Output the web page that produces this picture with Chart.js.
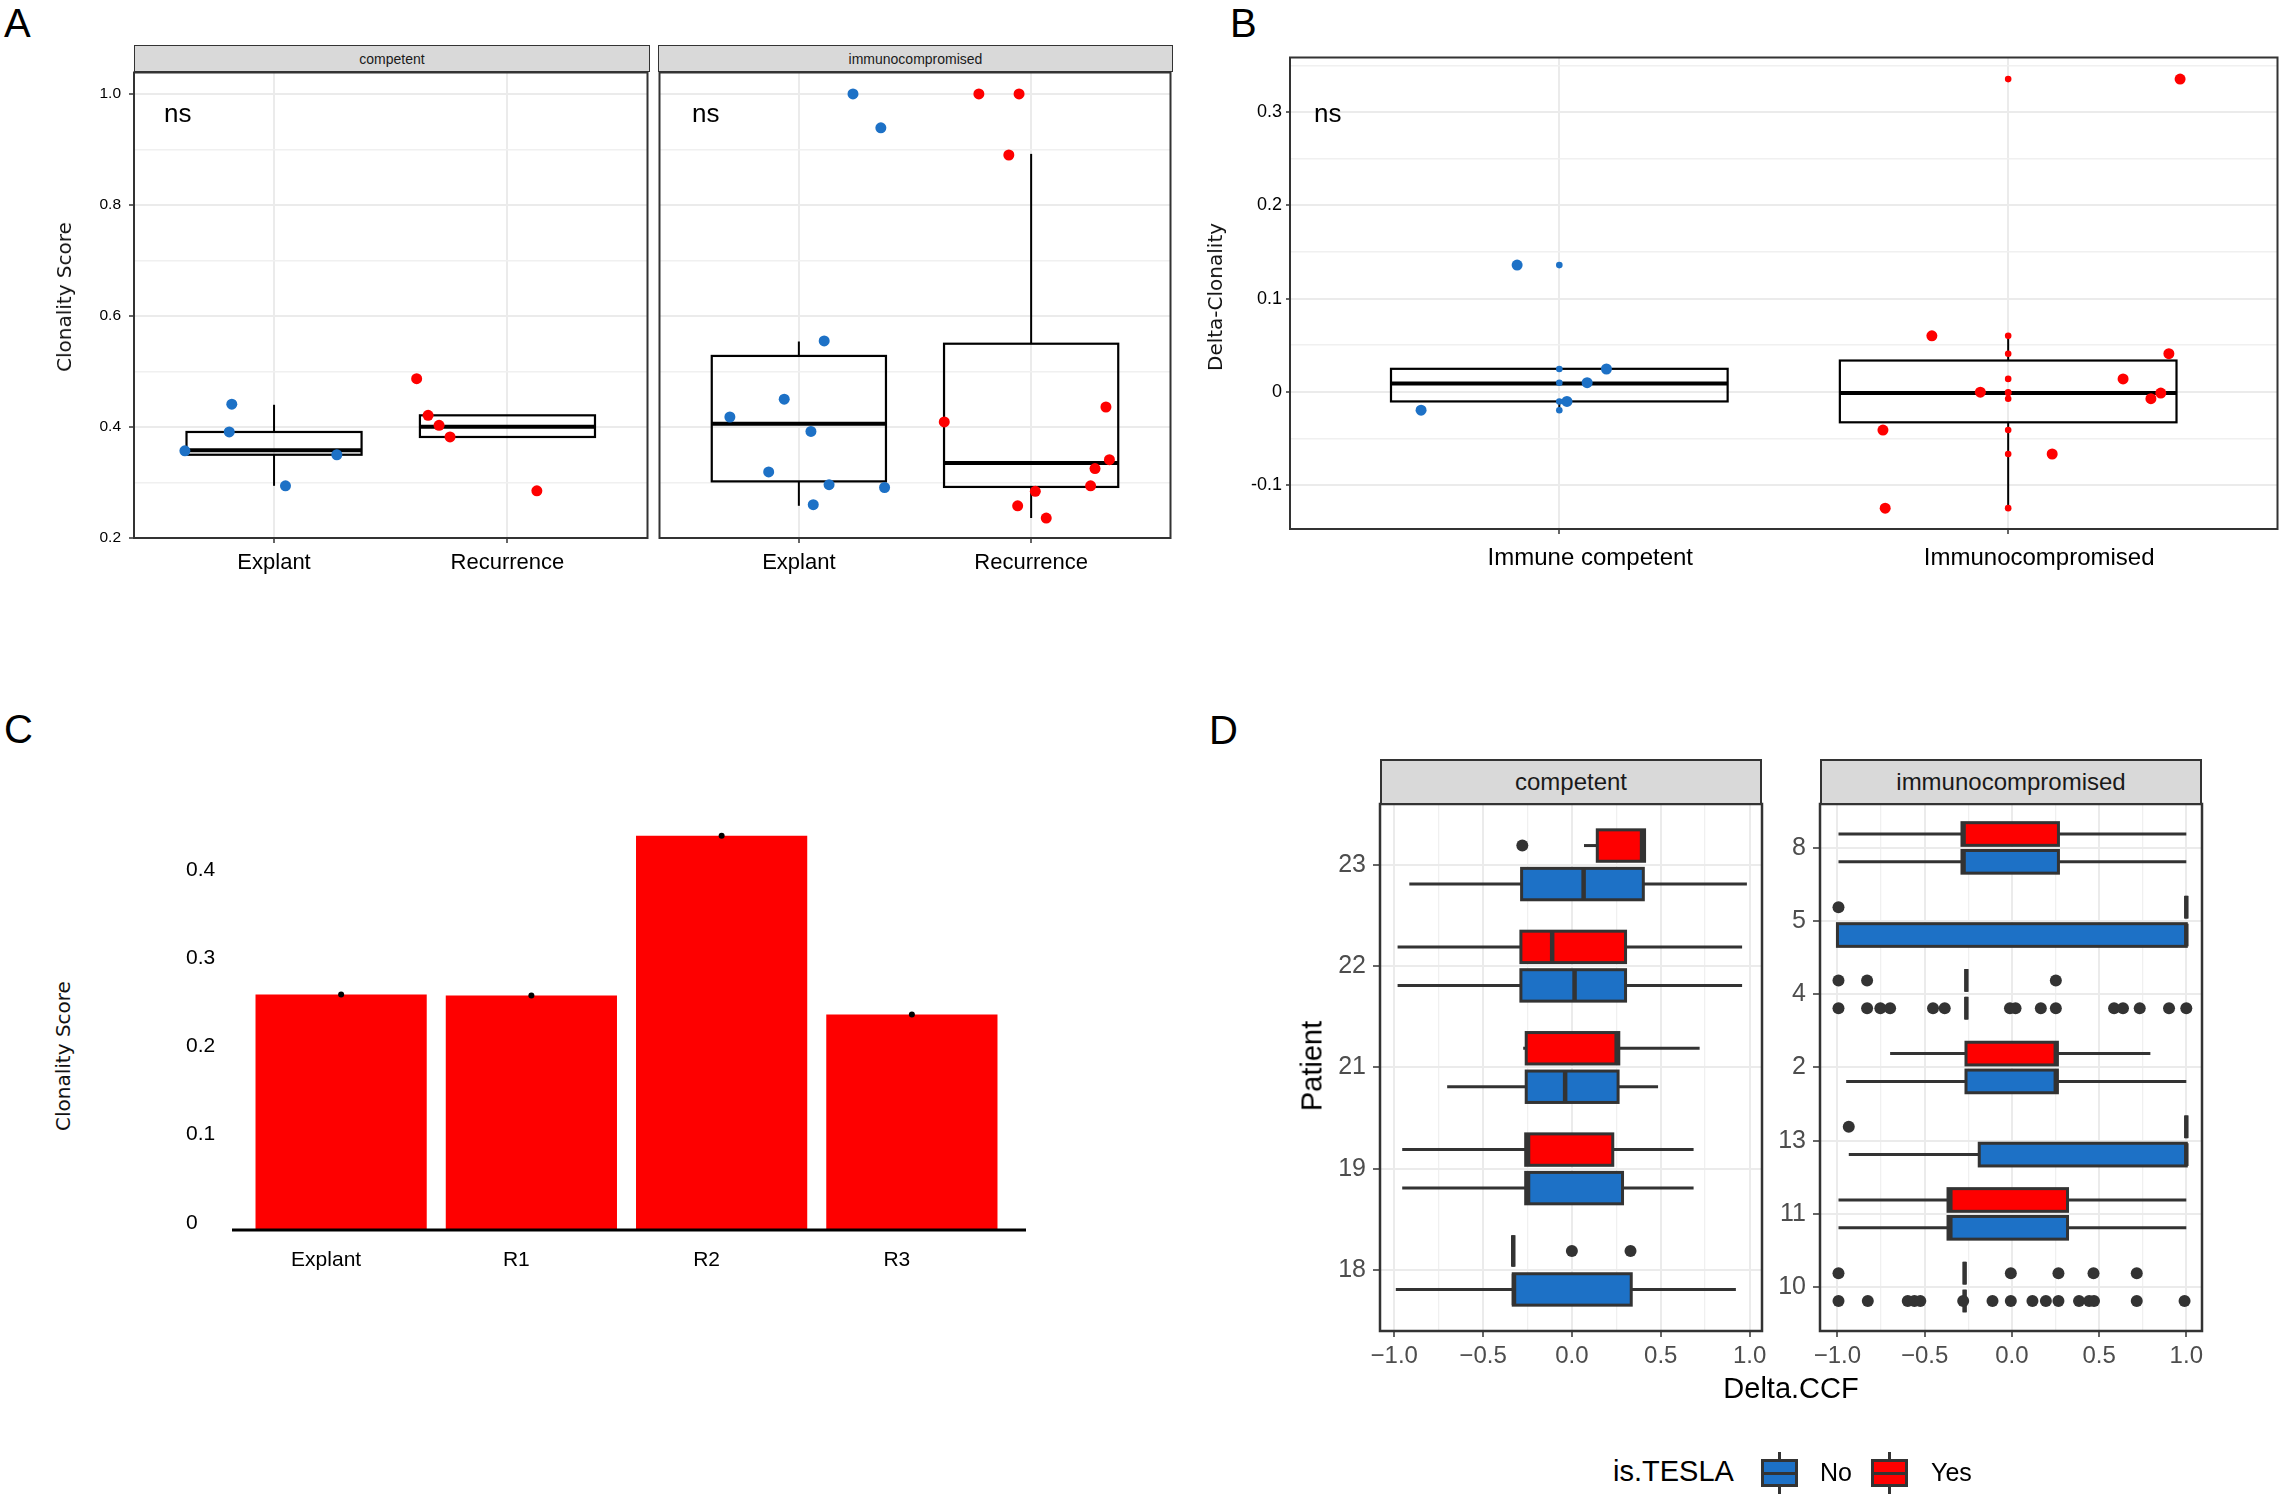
<!DOCTYPE html>
<html>
<head>
<meta charset="utf-8">
<title>Clonality figure</title>
<script src="https://cdn.jsdelivr.net/npm/chart.js@4.4.0/dist/chart.umd.min.js"></script>
<style>
  body { margin: 0; width: 2283px; height: 1496px; background: #fff; position: relative; overflow: hidden;
         font-family: "Liberation Sans", Arial, sans-serif; color: #000; }
  canvas { position: absolute; }
  .t { position: absolute; white-space: nowrap; line-height: 1; }
  .yt { position: absolute; white-space: nowrap; line-height: 1; transform: translate(-50%, -50%) rotate(-90deg); }
  .dv { font-family: "DejaVu Sans", sans-serif; font-size: 20px; color: #111; }
  .strip { position: absolute; box-sizing: border-box; background: #d9d9d9; border: 1.5px solid #333;
           display: flex; align-items: center; justify-content: center; color: #1a1a1a; line-height: 1; }
  .key { position: absolute; box-sizing: border-box; width: 37px; height: 28px; border: 3px solid #333; }
  .key .med { position: absolute; left: 0; right: 0; top: 9.5px; height: 3px; background: #333; }
  .key .wh { position: absolute; left: 14px; width: 3px; height: 7px; background: #333; }
</style>
</head>
<body>
<canvas id="a1"></canvas>
<canvas id="a2"></canvas>
<canvas id="b"></canvas>
<canvas id="c"></canvas>
<canvas id="d1"></canvas>
<canvas id="d2"></canvas>

<div class="t" style="left:4px;top:3px;font-size:40px">A</div>
<div class="t" style="left:1230px;top:3px;font-size:40px">B</div>
<div class="t" style="left:4px;top:709px;font-size:40px">C</div>
<div class="t" style="left:1209px;top:710px;font-size:40px">D</div>

<div class="strip" style="left:134px;top:45px;width:516px;height:27px;font-size:14px">competent</div>
<div class="strip" style="left:658px;top:45px;width:515px;height:27px;font-size:14px">immunocompromised</div>
<div class="t" style="left:164px;top:100px;font-size:26px">ns</div>
<div class="t" style="left:692px;top:100px;font-size:26px">ns</div>
<div class="t" style="left:1314px;top:100px;font-size:26px">ns</div>
<div class="yt dv" style="left:64px;top:297px">Clonality Score</div>
<div class="yt dv" style="left:1215px;top:297px">Delta-Clonality</div>
<div class="yt dv" style="left:63px;top:1056px">Clonality Score</div>

<div class="strip" style="left:1380px;top:759px;width:382px;height:46px;font-size:24px;border-width:2px">competent</div>
<div class="strip" style="left:1820px;top:759px;width:382px;height:46px;font-size:24px;border-width:2px">immunocompromised</div>
<div class="yt" style="left:1312px;top:1066px;font-size:29px">Patient</div>
<div class="t" style="left:1791px;top:1374px;font-size:29px;transform:translateX(-50%)">Delta.CCF</div>
<div class="t" style="left:1613px;top:1457px;font-size:29px">is.TESLA</div>
<div class="key" id="keyNo" style="left:1761px;top:1459px"><div class="wh" style="top:-10px"></div><div class="med"></div><div class="wh" style="top:25px"></div></div>
<div class="t" style="left:1820px;top:1460px;font-size:25px">No</div>
<div class="key" id="keyYes" style="left:1871px;top:1459px"><div class="wh" style="top:-10px"></div><div class="med"></div><div class="wh" style="top:25px"></div></div>
<div class="t" style="left:1931px;top:1460px;font-size:25px">Yes</div>

<script>
// ---- Panel A: clonality score per sample type, faceted by immune status ----
const aCategories = ['Explant', 'Recurrence'];
const aYTicks = [0.2, 0.4, 0.6, 0.8, 1.0];
const aYTickLabels = ['0.2', '0.4', '0.6', '0.8', '1.0'];
const aYMinor = [0.3, 0.5, 0.7, 0.9];
const aCompExplant = [0.357, 0.441, 0.391, 0.294, 0.350];
const aCompExplantJitter = [0.618, 0.819, 0.808, 1.049, 1.269];
const aCompRecur = [0.487, 0.421, 0.403, 0.382, 0.285];
const aCompRecurJitter = [1.611, 1.660, 1.707, 1.754, 2.126];
const aImmExplant = [1.0, 0.939, 0.555, 0.450, 0.418, 0.392, 0.319, 0.296, 0.291, 0.260];
const aImmExplantJitter = [1.233, 1.353, 1.109, 0.937, 0.703, 1.052, 0.870, 1.130, 1.369, 1.062];
const aImmRecur = [1.0, 1.0, 0.890, 0.409, 0.436, 0.341, 0.325, 0.294, 0.284, 0.258, 0.236];
const aImmRecurJitter = [1.775, 1.948, 1.904, 1.626, 2.322, 2.337, 2.275, 2.256, 2.018, 1.942, 2.065];
// box stats: [lower whisker, Q1, median, Q3, upper whisker]
const aCompExplantBox = [0.294, 0.350, 0.358, 0.391, 0.440];
const aCompRecurBox = [0.382, 0.382, 0.4005, 0.421, 0.421];
const aImmExplantBox = [0.258, 0.302, 0.406, 0.528, 0.554];
const aImmRecurBox = [0.236, 0.292, 0.335, 0.550, 0.892];

// ---- Panel B: delta clonality by immune status ----
const bCategories = ['Immune competent', 'Immunocompromised'];
const bYTicks = [-0.1, 0, 0.1, 0.2, 0.3];
const bYTickLabels = ['-0.1', '0', '0.1', '0.2', '0.3'];
const bYMinor = [-0.05, 0.05, 0.15, 0.25, 0.35];
const bCompetent = [0.136, 0.0245, 0.0098, -0.0103, -0.0197];
const bCompetentJitter = [0.906, 1.105, 1.062, 1.017, 0.692];
const bImmuno = [0.3356, 0.0601, 0.0409, 0.0139, -0.0004, -0.0013, -0.0074, -0.041, -0.0667, -0.1248];
const bImmunoJitter = [2.383, 1.830, 2.358, 2.256, 1.938, 2.340, 2.318, 1.721, 2.098, 1.726];
const bCompetentBox = [-0.0197, -0.0103, 0.009, 0.0247, 0.0247];
const bImmunoBox = [-0.1248, -0.0327, -0.0013, 0.0336, 0.0601];

// ---- Panel C: clonality score per sample ----
const cCategories = ['Explant', 'R1', 'R2', 'R3'];
const cValues = [0.2666, 0.2657, 0.4464, 0.244];
const cYTicks = [0, 0.1, 0.2, 0.3, 0.4];
const cYTickLabels = ['0', '0.1', '0.2', '0.3', '0.4'];

// ---- Panel D: Delta.CCF per patient, split by is.TESLA ----
const dXTicks = [-1, -0.5, 0, 0.5, 1];
const dXTickLabels = ['\u22121.0', '\u22120.5', '0.0', '0.5', '1.0'];
const dXMinor = [-0.75, -0.25, 0.25, 0.75];
const dCompPatients = ['18', '19', '21', '22', '23'];
const dCompNoBox = [
  [-0.991, -0.330, -0.326, 0.334, 0.923],
  [-0.955, -0.260, -0.247, 0.285, 0.685],
  [-0.702, -0.257, -0.038, 0.260, 0.485],
  [-0.981, -0.287, 0.015, 0.302, 0.958],
  [-0.915, -0.283, 0.066, 0.402, 0.985]
];
const dCompYesBox = [
  [-0.330, -0.330, -0.330, -0.330, -0.330],
  [-0.955, -0.260, -0.247, 0.230, 0.685],
  [-0.274, -0.257, 0.252, 0.264, 0.719],
  [-0.981, -0.287, -0.111, 0.302, 0.958],
  [0.068, 0.143, 0.395, 0.409, 0.409]
];
const dCompNoOut = [[], [], [], [], []];
const dCompYesOut = [[0.0, 0.330], [], [], [], [-0.279]];
const dImmPatients = ['10', '11', '13', '2', '4', '5', '8'];
const dImmNoBox = [
  [-0.271, -0.271, -0.271, -0.271, -0.271],
  [-0.994, -0.366, -0.353, 0.319, 1.0],
  [-0.935, -0.187, 1.0, 1.0, 1.0],
  [-0.950, -0.263, 0.252, 0.261, 1.0],
  [-0.261, -0.261, -0.261, -0.261, -0.261],
  [-1.0, -1.0, 1.0, 1.0, 1.0],
  [-0.994, -0.286, -0.277, 0.267, 1.0]
];
const dImmYesBox = [
  [-0.271, -0.271, -0.271, -0.271, -0.271],
  [-0.994, -0.366, -0.353, 0.319, 1.0],
  [1.0, 1.0, 1.0, 1.0, 1.0],
  [-0.698, -0.263, 0.252, 0.261, 0.794],
  [-0.261, -0.261, -0.261, -0.261, -0.261],
  [1.0, 1.0, 1.0, 1.0, 1.0],
  [-0.994, -0.286, -0.277, 0.267, 1.0]
];
const dImmNoOut = [
  [-0.994, -0.826, -0.597, -0.559, -0.525, -0.279, -0.111, -0.006, 0.118, 0.195, 0.267, 0.385, 0.443, 0.471, 0.716, 0.990],
  [], [], [],
  [-0.994, -0.830, -0.754, -0.698, -0.452, -0.385, -0.011, 0.021, 0.166, 0.252, 0.586, 0.637, 0.733, 0.901, 1.0],
  [], []
];
const dImmYesOut = [
  [-0.994, -0.006, 0.267, 0.468, 0.716],
  [], [-0.935], [],
  [-0.994, -0.830, 0.252],
  [-0.994], []
];

const BLUE = '#1d71c6', RED = '#fe0000', DARK = '#333333', GRID = '#ebebeb', MINOR = '#f0f0f0';
const DODGE = 0.19;

Chart.defaults.font.family = '"Liberation Sans", Arial, sans-serif';
Chart.defaults.color = '#000';
Chart.defaults.plugins.legend.display = false;
Chart.defaults.plugins.tooltip.enabled = false;

document.getElementById('keyNo').style.background = BLUE;
document.getElementById('keyYes').style.background = RED;

// place a canvas so that its plot area lands on the given page rectangle
function frame(id, L, T, W, H, m) {
  const c = document.getElementById(id);
  c.width = W + m.l + m.r;
  c.height = H + m.t + m.b;
  c.style.left = (L - m.l) + 'px';
  c.style.top = (T - m.t) + 'px';
  return c;
}
const setTicks = vals => s => { s.ticks = vals.map(v => ({ value: v })); };
// fixed axis sizes; drop the label overhang padding so the plot area is exact
const fixW = w => s => { s.width = w; s.paddingTop = 0; s.paddingBottom = 0; };
const fixH = h => s => { s.height = h; s.paddingLeft = 0; s.paddingRight = 0; };

function gridOpts(major, wMajor, wMinor, tickLen) {
  const isMajor = c => c.tick && major.includes(c.tick.value);
  return {
    color: c => isMajor(c) ? GRID : MINOR,
    lineWidth: c => isMajor(c) ? wMajor : wMinor,
    drawTicks: tickLen > 0, tickLength: tickLen, tickWidth: 1.5,
    tickColor: c => isMajor(c) ? DARK : 'rgba(0,0,0,0)'
  };
}
function labelFrom(major, labels) {
  return v => { const k = major.indexOf(v); return k < 0 ? '' : labels[k]; };
}

function borderPlugin(w) {
  return {
    id: 'panelBorder',
    afterDraw(chart) {
      const { ctx, chartArea: a } = chart;
      ctx.save();
      ctx.strokeStyle = DARK; ctx.lineWidth = w;
      ctx.strokeRect(a.left, a.top, a.right - a.left, a.bottom - a.top);
      ctx.restore();
    }
  };
}

// boxplots drawn through the chart's own scales
function boxPlugin(items, o) {
  return {
    id: 'boxes',
    beforeDatasetsDraw(chart) {
      const { ctx } = chart;
      const val = o.horizontal ? chart.scales.x : chart.scales.y;
      const cat = o.horizontal ? chart.scales.y : chart.scales.x;
      const P = (vp, cp) => o.horizontal ? [vp, cp] : [cp, vp];
      const seg = (p, q) => { ctx.beginPath(); ctx.moveTo(p[0], p[1]); ctx.lineTo(q[0], q[1]); ctx.stroke(); };
      ctx.save();
      ctx.strokeStyle = o.stroke; ctx.lineCap = 'butt';
      items.forEach(b => {
        const [lo, q1, med, q3, hi] = b.stats.map(v => val.getPixelForValue(v));
        const c0 = cat.getPixelForValue(b.pos - o.half), c1 = cat.getPixelForValue(b.pos + o.half);
        const cc = cat.getPixelForValue(b.pos);
        ctx.lineWidth = o.whisker;
        seg(P(lo, cc), P(q1, cc));
        seg(P(q3, cc), P(hi, cc));
        const p0 = P(q1, c0), p1 = P(q3, c1);
        const x = Math.min(p0[0], p1[0]), y = Math.min(p0[1], p1[1]);
        const w = Math.abs(p1[0] - p0[0]), h = Math.abs(p1[1] - p0[1]);
        if (b.fill) { ctx.fillStyle = b.fill; ctx.fillRect(x, y, w, h); }
        ctx.lineWidth = o.box;
        ctx.strokeRect(x, y, w, h);
        ctx.lineWidth = o.median;
        seg(P(med, c0), P(med, c1));
      });
      ctx.restore();
    }
  };
}

const baseOpts = m => ({
  responsive: false, animation: false, events: [],
  layout: { padding: { top: m.t, right: m.r, left: 0, bottom: 0 } }
});

// ---------- Panel A ----------
function facetA(id, L, W, showY, explant, explantX, recur, recurX, boxes) {
  const m = { l: showY ? 74 : 4, t: 4, r: 4, b: 70 };
  const allY = aYTicks.concat(aYMinor);
  new Chart(frame(id, L, 71, W, 467, m), {
    type: 'scatter',
    data: { datasets: [
      { data: explant.map((v, i) => ({ x: explantX[i], y: v })), backgroundColor: BLUE, pointRadius: 5.5, borderWidth: 0 },
      { data: recur.map((v, i) => ({ x: recurX[i], y: v })), backgroundColor: RED, pointRadius: 5.5, borderWidth: 0 }
    ]},
    options: Object.assign(baseOpts(m), {
      scales: {
        x: {
          type: 'linear', min: 0.4, max: 2.6,
          afterBuildTicks: setTicks(aCategories.map((c, i) => i + 1)), afterFit: fixH(m.b),
          border: { display: false },
          grid: { color: GRID, lineWidth: 2, tickLength: 5, tickColor: DARK, tickWidth: 1.5 },
          ticks: { autoSkip: false, maxRotation: 0, padding: 7, font: { size: 22 }, color: '#000',
                   callback: (v, i) => aCategories[i] }
        },
        y: {
          min: 0.2, max: 1.0386,
          afterBuildTicks: setTicks(allY), afterFit: fixW(m.l),
          border: { display: false },
          grid: gridOpts(aYTicks, 2, 1.5, showY ? 5 : 0),
          ticks: { display: showY, autoSkip: false, padding: 8, font: { size: 15.5 }, color: '#000',
                   callback: labelFrom(aYTicks, aYTickLabels) }
        }
      }
    }),
    plugins: [boxPlugin(boxes, { horizontal: false, half: 0.375, stroke: '#000', box: 2.2, median: 4, whisker: 2 }), borderPlugin(2)]
  });
}
facetA('a1', 134, 515, true, aCompExplant, aCompExplantJitter, aCompRecur, aCompRecurJitter,
  [{ pos: 1, stats: aCompExplantBox }, { pos: 2, stats: aCompRecurBox }]);
facetA('a2', 658, 514, false, aImmExplant, aImmExplantJitter, aImmRecur, aImmRecurJitter,
  [{ pos: 1, stats: aImmExplantBox }, { pos: 2, stats: aImmRecurBox }]);

// ---------- Panel B ----------
(function () {
  const m = { l: 80, t: 4, r: 4, b: 60 };
  new Chart(frame('b', 1290, 56, 989, 473, m), {
    type: 'scatter',
    data: { datasets: [
      { data: bCompetent.map(v => ({ x: 1, y: v })), backgroundColor: BLUE, pointRadius: 3.3, borderWidth: 0 },
      { data: bImmuno.map(v => ({ x: 2, y: v })), backgroundColor: RED, pointRadius: 3.3, borderWidth: 0 },
      { data: bCompetent.map((v, i) => ({ x: bCompetentJitter[i], y: v })), backgroundColor: BLUE, pointRadius: 5.5, borderWidth: 0 },
      { data: bImmuno.map((v, i) => ({ x: bImmunoJitter[i], y: v })), backgroundColor: RED, pointRadius: 5.5, borderWidth: 0 }
    ]},
    options: Object.assign(baseOpts(m), {
      scales: {
        x: {
          type: 'linear', min: 0.4, max: 2.6,
          afterBuildTicks: setTicks(bCategories.map((c, i) => i + 1)), afterFit: fixH(m.b),
          border: { display: false },
          grid: { color: GRID, lineWidth: 2, tickLength: 5, tickColor: DARK, tickWidth: 1.5 },
          ticks: { autoSkip: false, maxRotation: 0, padding: 10, labelOffset: 31, font: { size: 24 }, color: '#000',
                   callback: (v, i) => bCategories[i] }
        },
        y: {
          min: -0.1472, max: 0.3588,
          afterBuildTicks: setTicks(bYTicks.concat(bYMinor)), afterFit: fixW(m.l),
          border: { display: false },
          grid: gridOpts(bYTicks, 2, 1.5, 4),
          ticks: { autoSkip: false, padding: 4, font: { size: 18 }, color: '#000',
                   callback: labelFrom(bYTicks, bYTickLabels) }
        }
      }
    }),
    plugins: [boxPlugin([{ pos: 1, stats: bCompetentBox }, { pos: 2, stats: bImmunoBox }],
      { horizontal: false, half: 0.375, stroke: '#000', box: 2.2, median: 4, whisker: 2 }), borderPlugin(2)]
  });
})();

// ---------- Panel C ----------
(function () {
  const m = { l: 60, t: 10, r: 30, b: 50 };
  const baseline = {
    id: 'baseline',
    afterDraw(chart) {
      const { ctx, chartArea: a } = chart;
      const y = chart.scales.y.getPixelForValue(0);
      ctx.save();
      ctx.strokeStyle = '#000'; ctx.lineWidth = 3;
      ctx.beginPath(); ctx.moveTo(a.left - 14, y); ctx.lineTo(a.right + 19, y); ctx.stroke();
      ctx.restore();
    }
  };
  new Chart(frame('c', 246, 762, 761, 468, m), {
    type: 'bar',
    data: { labels: cCategories, datasets: [
      { type: 'bar', data: cValues, backgroundColor: RED, categoryPercentage: 0.9, barPercentage: 1, order: 2 },
      { type: 'line', data: cValues, showLine: false, pointRadius: 3, pointBackgroundColor: '#000', pointBorderWidth: 0, order: 1 }
    ]},
    options: Object.assign(baseOpts(m), {
      scales: {
        x: {
          afterFit: fixH(m.b), border: { display: false }, grid: { display: false },
          ticks: { labelOffset: -15, padding: 10, font: { size: 21 }, color: '#000' }
        },
        y: {
          min: 0, max: 0.53, afterBuildTicks: setTicks(cYTicks), afterFit: fixW(m.l),
          border: { display: false }, grid: { display: false },
          ticks: { crossAlign: 'far', labelOffset: -7, font: { size: 21 }, color: '#000',
                   callback: labelFrom(cYTicks, cYTickLabels) }
        }
      }
    }),
    plugins: [baseline]
  });
})();

// ---------- Panel D ----------
function facetD(id, L, patients, noBox, yesBox, noOut, yesOut, xMin, xMax) {
  const m = { l: 70, t: 6, r: 25, b: 45 };
  const items = [], outliers = [];
  patients.forEach((p, i) => {
    if (noBox[i]) items.push({ pos: i - DODGE, stats: noBox[i], fill: BLUE });
    if (yesBox[i]) items.push({ pos: i + DODGE, stats: yesBox[i], fill: RED });
    noOut[i].forEach(v => outliers.push({ x: v, y: i - DODGE }));
    yesOut[i].forEach(v => outliers.push({ x: v, y: i + DODGE }));
  });
  new Chart(frame(id, L, 804, 382, 527, m), {
    type: 'scatter',
    data: { datasets: [{ data: outliers, backgroundColor: DARK, pointRadius: 6, borderWidth: 0 }] },
    options: Object.assign(baseOpts(m), {
      scales: {
        x: {
          type: 'linear', min: xMin, max: xMax,
          afterBuildTicks: setTicks(dXTicks.concat(dXMinor)), afterFit: fixH(m.b),
          border: { display: false },
          grid: gridOpts(dXTicks, 2, 1.3, 6),
          ticks: { autoSkip: false, maxRotation: 0, padding: 5, font: { size: 24 }, color: '#4d4d4d',
                   callback: labelFrom(dXTicks, dXTickLabels) }
        },
        y: {
          min: -0.6, max: patients.length - 0.4,
          afterBuildTicks: setTicks(patients.map((p, i) => i)), afterFit: fixW(m.l),
          border: { display: false },
          grid: { color: GRID, lineWidth: 2, tickLength: 7, tickColor: DARK, tickWidth: 1.5 },
          ticks: { autoSkip: false, padding: 7, font: { size: 25 }, color: '#4d4d4d',
                   callback: (v, i) => patients[i] }
        }
      }
    }),
    plugins: [boxPlugin(items, { horizontal: true, half: 0.155, stroke: DARK, box: 3, median: 4.5, whisker: 3 }), borderPlugin(2.5)]
  });
}
facetD('d1', 1380, dCompPatients, dCompNoBox, dCompYesBox, dCompNoOut, dCompYesOut, -1.08, 1.07);
facetD('d2', 1820, dImmPatients, dImmNoBox, dImmYesBox, dImmNoOut, dImmYesOut, -1.1, 1.09);
</script>
</body>
</html>
